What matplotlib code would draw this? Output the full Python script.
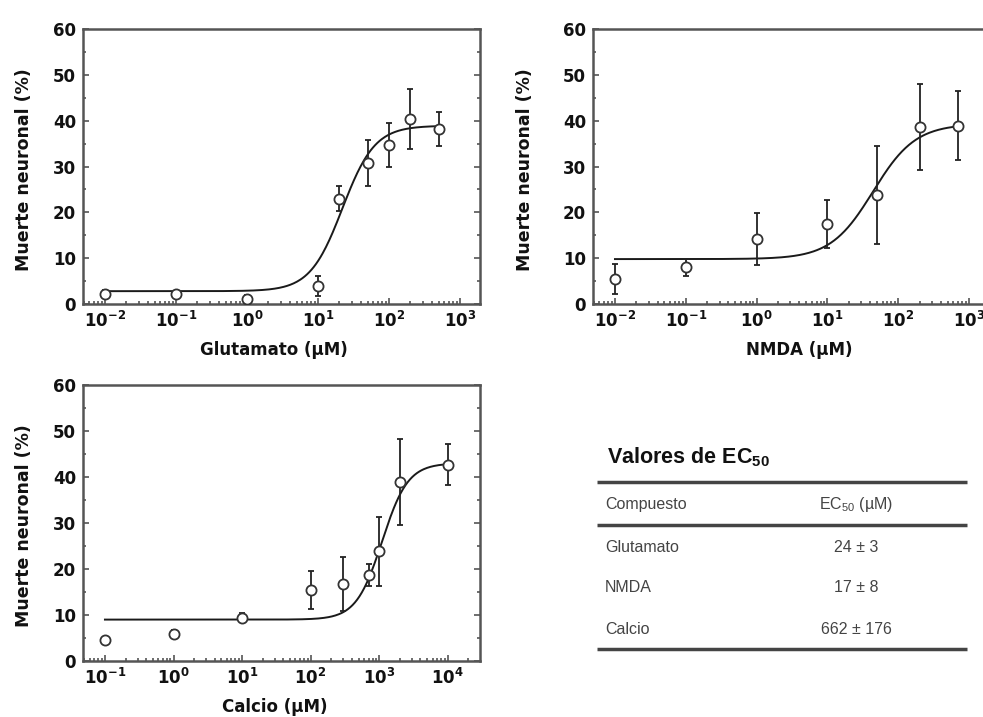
import numpy as np
import matplotlib
matplotlib.use('Agg')
import matplotlib.pyplot as plt
from matplotlib.ticker import MultipleLocator, LogLocator, NullFormatter

plt.rcParams['font.family'] = 'DejaVu Sans'
plt.rcParams['font.weight'] = 'bold'
plt.rcParams['axes.labelweight'] = 'bold'

# datos: concentracion (uM), muerte neuronal (%), error
glu_conc = [0.01, 0.1, 1, 10, 20, 50, 100, 200, 500]
glu_death = [2.2, 2.1, 1.2, 4.0, 23.0, 30.8, 34.7, 40.4, 38.1]
glu_err = [0.8, 0.8, 0.8, 2.2, 2.7, 5.0, 4.9, 6.6, 3.7]

nmda_conc = [0.01, 0.1, 1, 10, 50, 200, 700]
nmda_death = [5.5, 8.0, 14.2, 17.4, 23.8, 38.7, 38.9]
nmda_err = [3.3, 1.8, 5.7, 5.2, 10.6, 9.4, 7.5]

ca_conc = [0.1, 1, 10, 100, 300, 700, 1000, 2000, 10000]
ca_death = [4.6, 5.9, 9.4, 15.4, 16.7, 18.6, 23.9, 38.9, 42.7]
ca_err = [0.6, 0.8, 1.0, 4.1, 5.9, 2.4, 7.5, 9.3, 4.4]

# ajuste sigmoidal (bottom, top, EC50, hill)
glu_fit = [2.8, 38.9, 22, 1.9]
nmda_fit = [9.8, 39.3, 44, 1.45]
ca_fit = [9.0, 43.0, 1100, 2.3]

# tabla
compuestos = ['Glutamato', 'NMDA', 'Calcio']
ec50_txt = ['24 ± 3', '17 ± 8', '662 ± 176']


def hill(x, bottom, top, ec50, n):
    return bottom + (top - bottom) / (1 + (ec50 / x) ** n)


W, H = 983, 717
fig = plt.figure(figsize=(W / 100, H / 100), dpi=100)


def px_axes(x0, y0, x1, y1):
    return fig.add_axes([x0 / W, 1 - y1 / H, (x1 - x0) / W, (y1 - y0) / H])


def panel(ax, conc, death, err, fit, xlim, xlabel, xlab_x, ylab_x):
    xs = np.logspace(np.log10(conc[0]), np.log10(conc[-1]), 300)
    ax.plot(xs, hill(xs, *fit), color='#1a1a1a', lw=1.4, zorder=2)
    ax.errorbar(conc, death, yerr=err, fmt='o', ms=7.3, mfc='white', mec='#333333',
                mew=1.3, ecolor='#222222', elinewidth=1.3, capsize=2.5, capthick=1.3,
                zorder=3)
    ax.set_xscale('log')
    ax.set_xlim(xlim)
    ax.set_ylim(0, 60)
    ax.yaxis.set_major_locator(MultipleLocator(10))
    ax.yaxis.set_minor_locator(MultipleLocator(5))
    ax.xaxis.set_major_locator(LogLocator(base=10, numticks=20))
    ax.xaxis.set_minor_locator(LogLocator(base=10, subs=np.arange(2, 10), numticks=20))
    ax.xaxis.set_minor_formatter(NullFormatter())
    ax.tick_params(which='both', direction='in', top=False, right=True,
                   color='#555555', width=1.2, labelcolor='#111111')
    ax.tick_params(which='major', length=4.5, labelsize=12, pad=5)
    ax.tick_params(which='minor', length=2.5)
    for s in ax.spines.values():
        s.set_color('#555555')
        s.set_linewidth(1.8)
    ax.set_xlabel(xlabel, fontsize=12, fontweight='bold', color='#111111')
    ax.set_ylabel('Muerte neuronal (%)', fontsize=12.5, fontweight='bold', color='#111111')
    ax.xaxis.set_label_coords(xlab_x, -0.135)
    ax.yaxis.set_label_coords(ylab_x, 0.49)


ax1 = px_axes(83, 29, 480, 304)
panel(ax1, glu_conc, glu_death, glu_err, glu_fit, (10 ** -2.31, 10 ** 3.28),
      'Glutamato (µM)', 0.482, -0.125)

ax2 = px_axes(593, 29, 989, 304)
panel(ax2, nmda_conc, nmda_death, nmda_err, nmda_fit, (10 ** -2.31, 10 ** 3.28),
      'NMDA (µM)', 0.52, -0.15)

ax3 = px_axes(83, 385, 480, 661)
panel(ax3, ca_conc, ca_death, ca_err, ca_fit, (10 ** -1.32, 10 ** 4.47),
      'Calcio (µM)', 0.482, -0.125)

# tabla de EC50
axt = px_axes(590, 435, 975, 665)
axt.set_xlim(590, 975)
axt.set_ylim(665, 435)
axt.axis('off')
axt.hlines([482, 525, 649], 597, 967, colors='#444444', linewidth=2.5)
axt.text(607, 463, r'Valores de $\mathdefault{EC_{50}}$', fontsize=15.5, fontweight='bold',
         family='Liberation Sans', color='#111111', va='baseline')
axt.text(605, 504, 'Compuesto', fontsize=11.5, fontweight='normal',
         family='Liberation Sans', color='#444444', va='center')
axt.text(856, 504, r'$\mathdefault{EC_{50}}$ (µM)', fontsize=11.5, fontweight='normal',
         family='Liberation Sans', color='#444444', va='center', ha='center')
for i, (c, v) in enumerate(zip(compuestos, ec50_txt)):
    y = 547 + 41 * i
    axt.text(605, y, c, fontsize=11.5, fontweight='normal', family='Liberation Sans',
             color='#444444', va='center')
    axt.text(856, y, v, fontsize=11.5, fontweight='normal', family='Liberation Sans',
             color='#444444', va='center', ha='center')

fig.savefig('out.png', dpi=100)
